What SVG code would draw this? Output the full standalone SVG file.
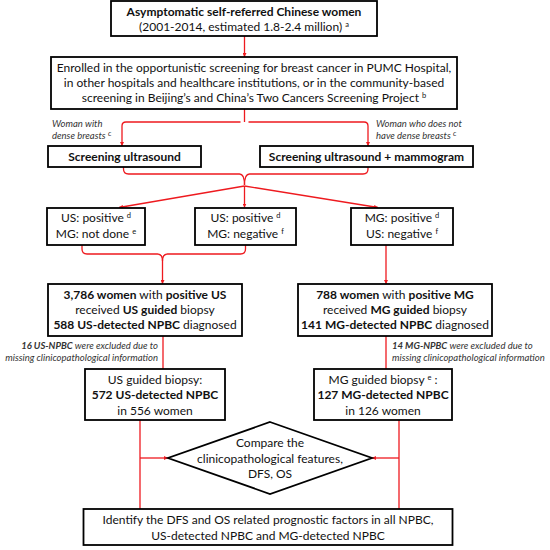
<svg xmlns="http://www.w3.org/2000/svg" width="550" height="550" viewBox="0 0 550 550">
<defs>
<marker id="ah" viewBox="0 0 8 8" refX="8" refY="4" markerWidth="4" markerHeight="4" orient="auto" markerUnits="userSpaceOnUse">
<path d="M0,0 L8,4 L0,8 z" fill="#ee1a1f"/>
</marker>
<style>
.box{fill:#fff;stroke:#000;stroke-width:1.8}
.t{font-family:Lato,"Liberation Sans",sans-serif;font-size:12px;fill:#111;text-anchor:middle}
.b{font-weight:bold}
.lab{font-family:Lato,"Liberation Sans",sans-serif;font-size:9.5px;font-style:italic;fill:#333}
.sup{font-size:7.5px}
.c{fill:none;stroke:#ee1a1f;stroke-width:1.3}
.ca{fill:none;stroke:#ee1a1f;stroke-width:1.3;marker-end:url(#ah)}
</style>
</defs>
<rect width="550" height="550" fill="#fff"/>

<g id="connectors">
<path class="ca" d="M244.5,36 V57"/>
<path class="c" d="M244.5,109 V122"/>
<path class="ca" d="M240.5,122 H126 Q122,122 122,126 V146"/>
<path class="ca" d="M248.5,122 H364 Q368,122 368,126 V146"/>
<path class="c" d="M123.5,167 V169 Q123.5,174 128.5,174 H239.5 Q244.5,174 244.5,185"/>
<path class="c" d="M368,167 V169 Q368,174 363,174 H249.5 Q244.5,174 244.5,185"/>
<path class="ca" d="M244.5,186 L119,207.5"/>
<path class="ca" d="M244.5,186 V207.5"/>
<path class="ca" d="M244.5,186 L378,207.5"/>
<path class="c" d="M82,245 V249 Q82,254 87,254 H157.5 Q162.5,254 162.5,261"/>
<path class="c" d="M245.5,245 V249 Q245.5,254 240.5,254 H167.5 Q162.5,254 162.5,261"/>
<path class="ca" d="M162.5,261 V284"/>
<path class="ca" d="M386,245 V284"/>
<path class="c" d="M163,336 V369"/>
<path class="c" d="M386,336 V369"/>
<path class="c" d="M140,420 V509"/>
<path class="ca" d="M140,458 H168"/>
<path class="c" d="M399,420 V509"/>
<path class="ca" d="M399,458 H372"/>
</g>

<g id="n1">
<rect class="box" x="111" y="1" width="266" height="35"/>
<text class="t b" x="244" y="16">Asymptomatic self-referred Chinese women</text>
<text class="t" x="244" y="31">(2001-2014, estimated 1.8-2.4 million) <tspan class="sup" dy="-4">a</tspan></text>
</g>

<g id="n2">
<rect class="box" x="51" y="57" width="406" height="52"/>
<text class="t" x="254" y="72">Enrolled in the opportunistic screening for breast cancer in PUMC Hospital,</text>
<text class="t" x="254" y="87">in other hospitals and healthcare institutions, or in the community-based</text>
<text class="t" x="254" y="102">screening in Beijing’s and China’s Two Cancers Screening Project <tspan class="sup" dy="-4">b</tspan></text>
</g>

<g id="labels">
<text class="lab" x="52" y="127">Woman with</text>
<text class="lab" x="52" y="139">dense breasts <tspan class="sup" dy="-3">c</tspan></text>
<text class="lab" x="376" y="127">Woman who does not</text>
<text class="lab" x="376" y="139">have dense breasts <tspan class="sup" dy="-3">c</tspan></text>
<text class="lab" x="158" y="349" text-anchor="end"><tspan font-weight="bold">16 US-NPBC</tspan> were excluded due to</text>
<text class="lab" x="158" y="361" text-anchor="end">missing clinicopathological information</text>
<text class="lab" x="392" y="349"><tspan font-weight="bold">14 MG-NPBC</tspan> were excluded due to</text>
<text class="lab" x="392" y="361">missing clinicopathological information</text>
</g>

<g id="n3">
<rect class="box" x="48" y="146" width="153" height="21"/>
<text class="t b" x="124.5" y="161">Screening ultrasound</text>
</g>

<g id="n4">
<rect class="box" x="260" y="146" width="213" height="21"/>
<text class="t b" x="366.5" y="161">Screening ultrasound + mammogram</text>
</g>

<g id="n5">
<rect class="box" x="47" y="208" width="98" height="37"/>
<text class="t" x="96" y="222">US: positive <tspan class="sup" dy="-4">d</tspan></text>
<text class="t" x="96" y="238">MG: not done <tspan class="sup" dy="-4">e</tspan></text>
</g>

<g id="n6">
<rect class="box" x="195" y="208" width="101" height="37"/>
<text class="t" x="245.5" y="222">US: positive <tspan class="sup" dy="-4">d</tspan></text>
<text class="t" x="245.5" y="238">MG: negative <tspan class="sup" dy="-4">f</tspan></text>
</g>

<g id="n7">
<rect class="box" x="351" y="208" width="102" height="37"/>
<text class="t" x="402" y="222">MG: positive <tspan class="sup" dy="-4">d</tspan></text>
<text class="t" x="402" y="238">US: negative <tspan class="sup" dy="-4">f</tspan></text>
</g>

<g id="n8">
<rect class="box" x="48" y="284" width="194" height="52"/>
<text class="t" x="145" y="299"><tspan class="b">3,786 women</tspan> with <tspan class="b">positive US</tspan></text>
<text class="t" x="145" y="314">received <tspan class="b">US guided</tspan> biopsy</text>
<text class="t" x="145" y="329"><tspan class="b">588 US-detected NPBC</tspan> diagnosed</text>
</g>

<g id="n9">
<rect class="box" x="298" y="284" width="194" height="52"/>
<text class="t" x="395" y="299"><tspan class="b">788 women</tspan> with <tspan class="b">positive MG</tspan></text>
<text class="t" x="395" y="314">received <tspan class="b">MG guided</tspan> biopsy</text>
<text class="t" x="395" y="329"><tspan class="b">141 MG-detected NPBC</tspan> diagnosed</text>
</g>

<g id="n10">
<rect class="box" x="85" y="369" width="140" height="51"/>
<text class="t" x="155" y="384">US guided biopsy:</text>
<text class="t b" x="155" y="399">572 US-detected NPBC</text>
<text class="t" x="155" y="415">in 556 women</text>
</g>

<g id="n11">
<rect class="box" x="314" y="369" width="138" height="51"/>
<text class="t" x="383" y="384">MG guided biopsy <tspan class="sup" dy="-4">e</tspan><tspan dy="4"> :</tspan></text>
<text class="t b" x="383" y="399">127 MG-detected NPBC</text>
<text class="t" x="383" y="415">in 126 women</text>
</g>

<g id="n12">
<polygon class="box" points="270,422 372,458 270,494 168,458"/>
<text class="t" x="270" y="447">Compare the</text>
<text class="t" x="270" y="463">clinicopathological features,</text>
<text class="t" x="270" y="478">DFS, OS</text>
</g>

<g id="n13">
<rect class="box" x="83.5" y="509" width="369" height="36"/>
<text class="t" x="268" y="524">Identify the DFS and OS related prognostic factors in all NPBC,</text>
<text class="t" x="268" y="540">US-detected NPBC and MG-detected NPBC</text>
</g>
</svg>
